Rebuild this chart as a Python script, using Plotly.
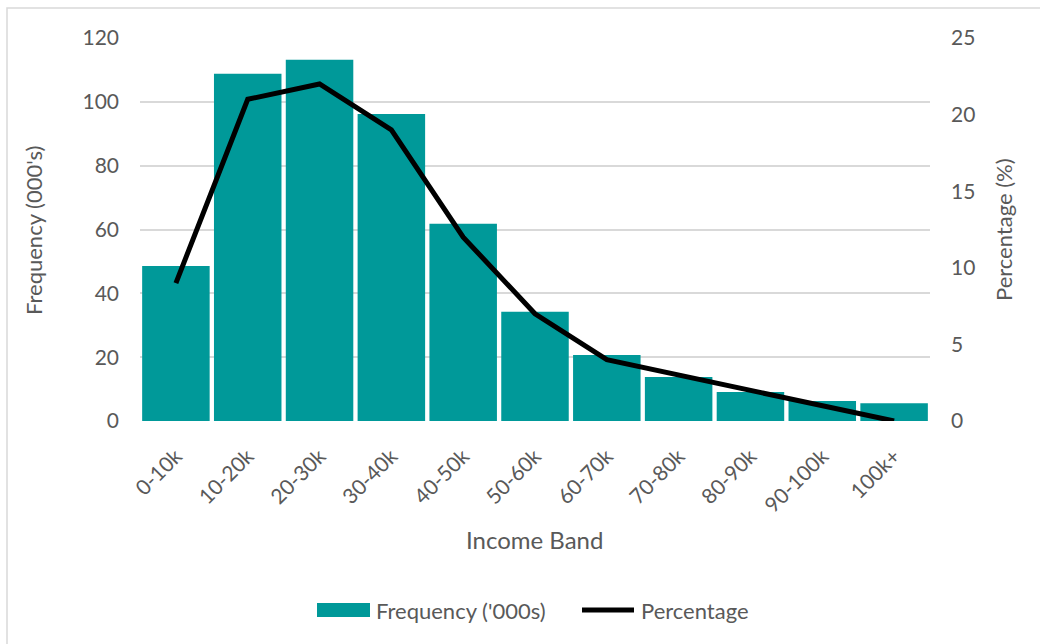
import plotly.graph_objects as go

# Income distribution: frequency (thousands) and percentage per income band
bands = ["0-10k", "10-20k", "20-30k", "30-40k", "40-50k", "50-60k",
         "60-70k", "70-80k", "80-90k", "90-100k", "100k+"]
frequency = [48.6, 108.8, 113.2, 96.2, 61.8, 34.2, 20.7, 13.8, 9.1, 6.3, 5.6]
percentage = [9, 21, 22, 19, 12, 7, 4, 3, 2, 1, 0]

freq_ticks = [0, 20, 40, 60, 80, 100, 120]
pct_ticks = [0, 5, 10, 15, 20, 25]

FONT = "Lato, 'Open Sans', sans-serif"
GREY = "#595959"
TEAL = "#009999"

W, H = 1040, 644
L, R, T, B = 140, 110, 38, 223
PW, PH = W - L - R, H - T - B


def px(x):
    return (x - L) / PW


def py(y):
    return (H - B - y) / PH


fig = go.Figure()
fig.add_trace(go.Bar(
    x=bands, y=frequency, name="Frequency ('000s)",
    marker=dict(color=TEAL, line=dict(width=0)),
    yaxis="y",
))
fig.add_trace(go.Scatter(
    x=bands, y=percentage, name="Percentage", mode="lines",
    line=dict(color="black", width=5),
    yaxis="y2",
))

# Legend is drawn by hand so the swatches can be wide bars
legend_shapes = [
    dict(type="rect", xref="paper", yref="paper",
         x0=px(317), x1=px(370), y0=py(617), y1=py(603),
         line=dict(width=0), fillcolor=TEAL),
    dict(type="line", xref="paper", yref="paper",
         x0=px(582), x1=px(634), y0=py(610), y1=py(610),
         line=dict(color="black", width=5)),
]
legend_labels = [
    dict(text="Frequency ('000s)", xref="paper", yref="paper",
         x=px(374), y=py(610), showarrow=False, xanchor="left",
         yanchor="middle", font=dict(size=22, color=GREY)),
    dict(text="Percentage", xref="paper", yref="paper",
         x=px(639), y=py(610), showarrow=False, xanchor="left",
         yanchor="middle", font=dict(size=22, color=GREY)),
]

fig.update_layout(
    width=W, height=H,
    margin=dict(l=L, r=R, t=T, b=B),
    paper_bgcolor="white", plot_bgcolor="white",
    font=dict(family=FONT, color=GREY, size=21),
    bargap=0.06,
    showlegend=False,
    xaxis=dict(
        tickangle=-45, showgrid=False, showline=False, zeroline=False,
        tickfont=dict(size=21, color=GREY), ticks="", ticklabelstandoff=18,
    ),
    yaxis=dict(
        range=[0, 120], tickvals=freq_ticks, showgrid=True,
        gridcolor="#d9d9d9", gridwidth=1.5, zeroline=False, showline=False,
        tickfont=dict(size=21, color=GREY), ticks="", ticklabelstandoff=20,
    ),
    yaxis2=dict(
        range=[0, 25], tickvals=pct_ticks, overlaying="y", side="right",
        showgrid=False, zeroline=False, showline=False,
        tickfont=dict(size=21, color=GREY), ticks="", ticklabelstandoff=20,
    ),
    annotations=[
        dict(text="Frequency (000's)", xref="paper", yref="paper",
             x=px(33), y=py(231), textangle=-90, showarrow=False,
             xanchor="center", yanchor="middle", font=dict(size=22, color=GREY)),
        dict(text="Percentage (%)", xref="paper", yref="paper",
             x=px(1003), y=py(230), textangle=-90, showarrow=False,
             xanchor="center", yanchor="middle", font=dict(size=22, color=GREY)),
        dict(text="Income Band", xref="paper", yref="paper",
             x=px(534), y=py(539), showarrow=False,
             xanchor="center", yanchor="middle", font=dict(size=24, color=GREY)),
    ] + legend_labels,
    shapes=[
        dict(type="rect", xref="paper", yref="paper",
             x0=px(7), x1=px(1060), y0=py(660), y1=py(8),
             line=dict(color="#d9d9d9", width=1.5), fillcolor="rgba(0,0,0,0)",
             layer="below"),
    ] + legend_shapes,
)

fig.write_html("out.html")
